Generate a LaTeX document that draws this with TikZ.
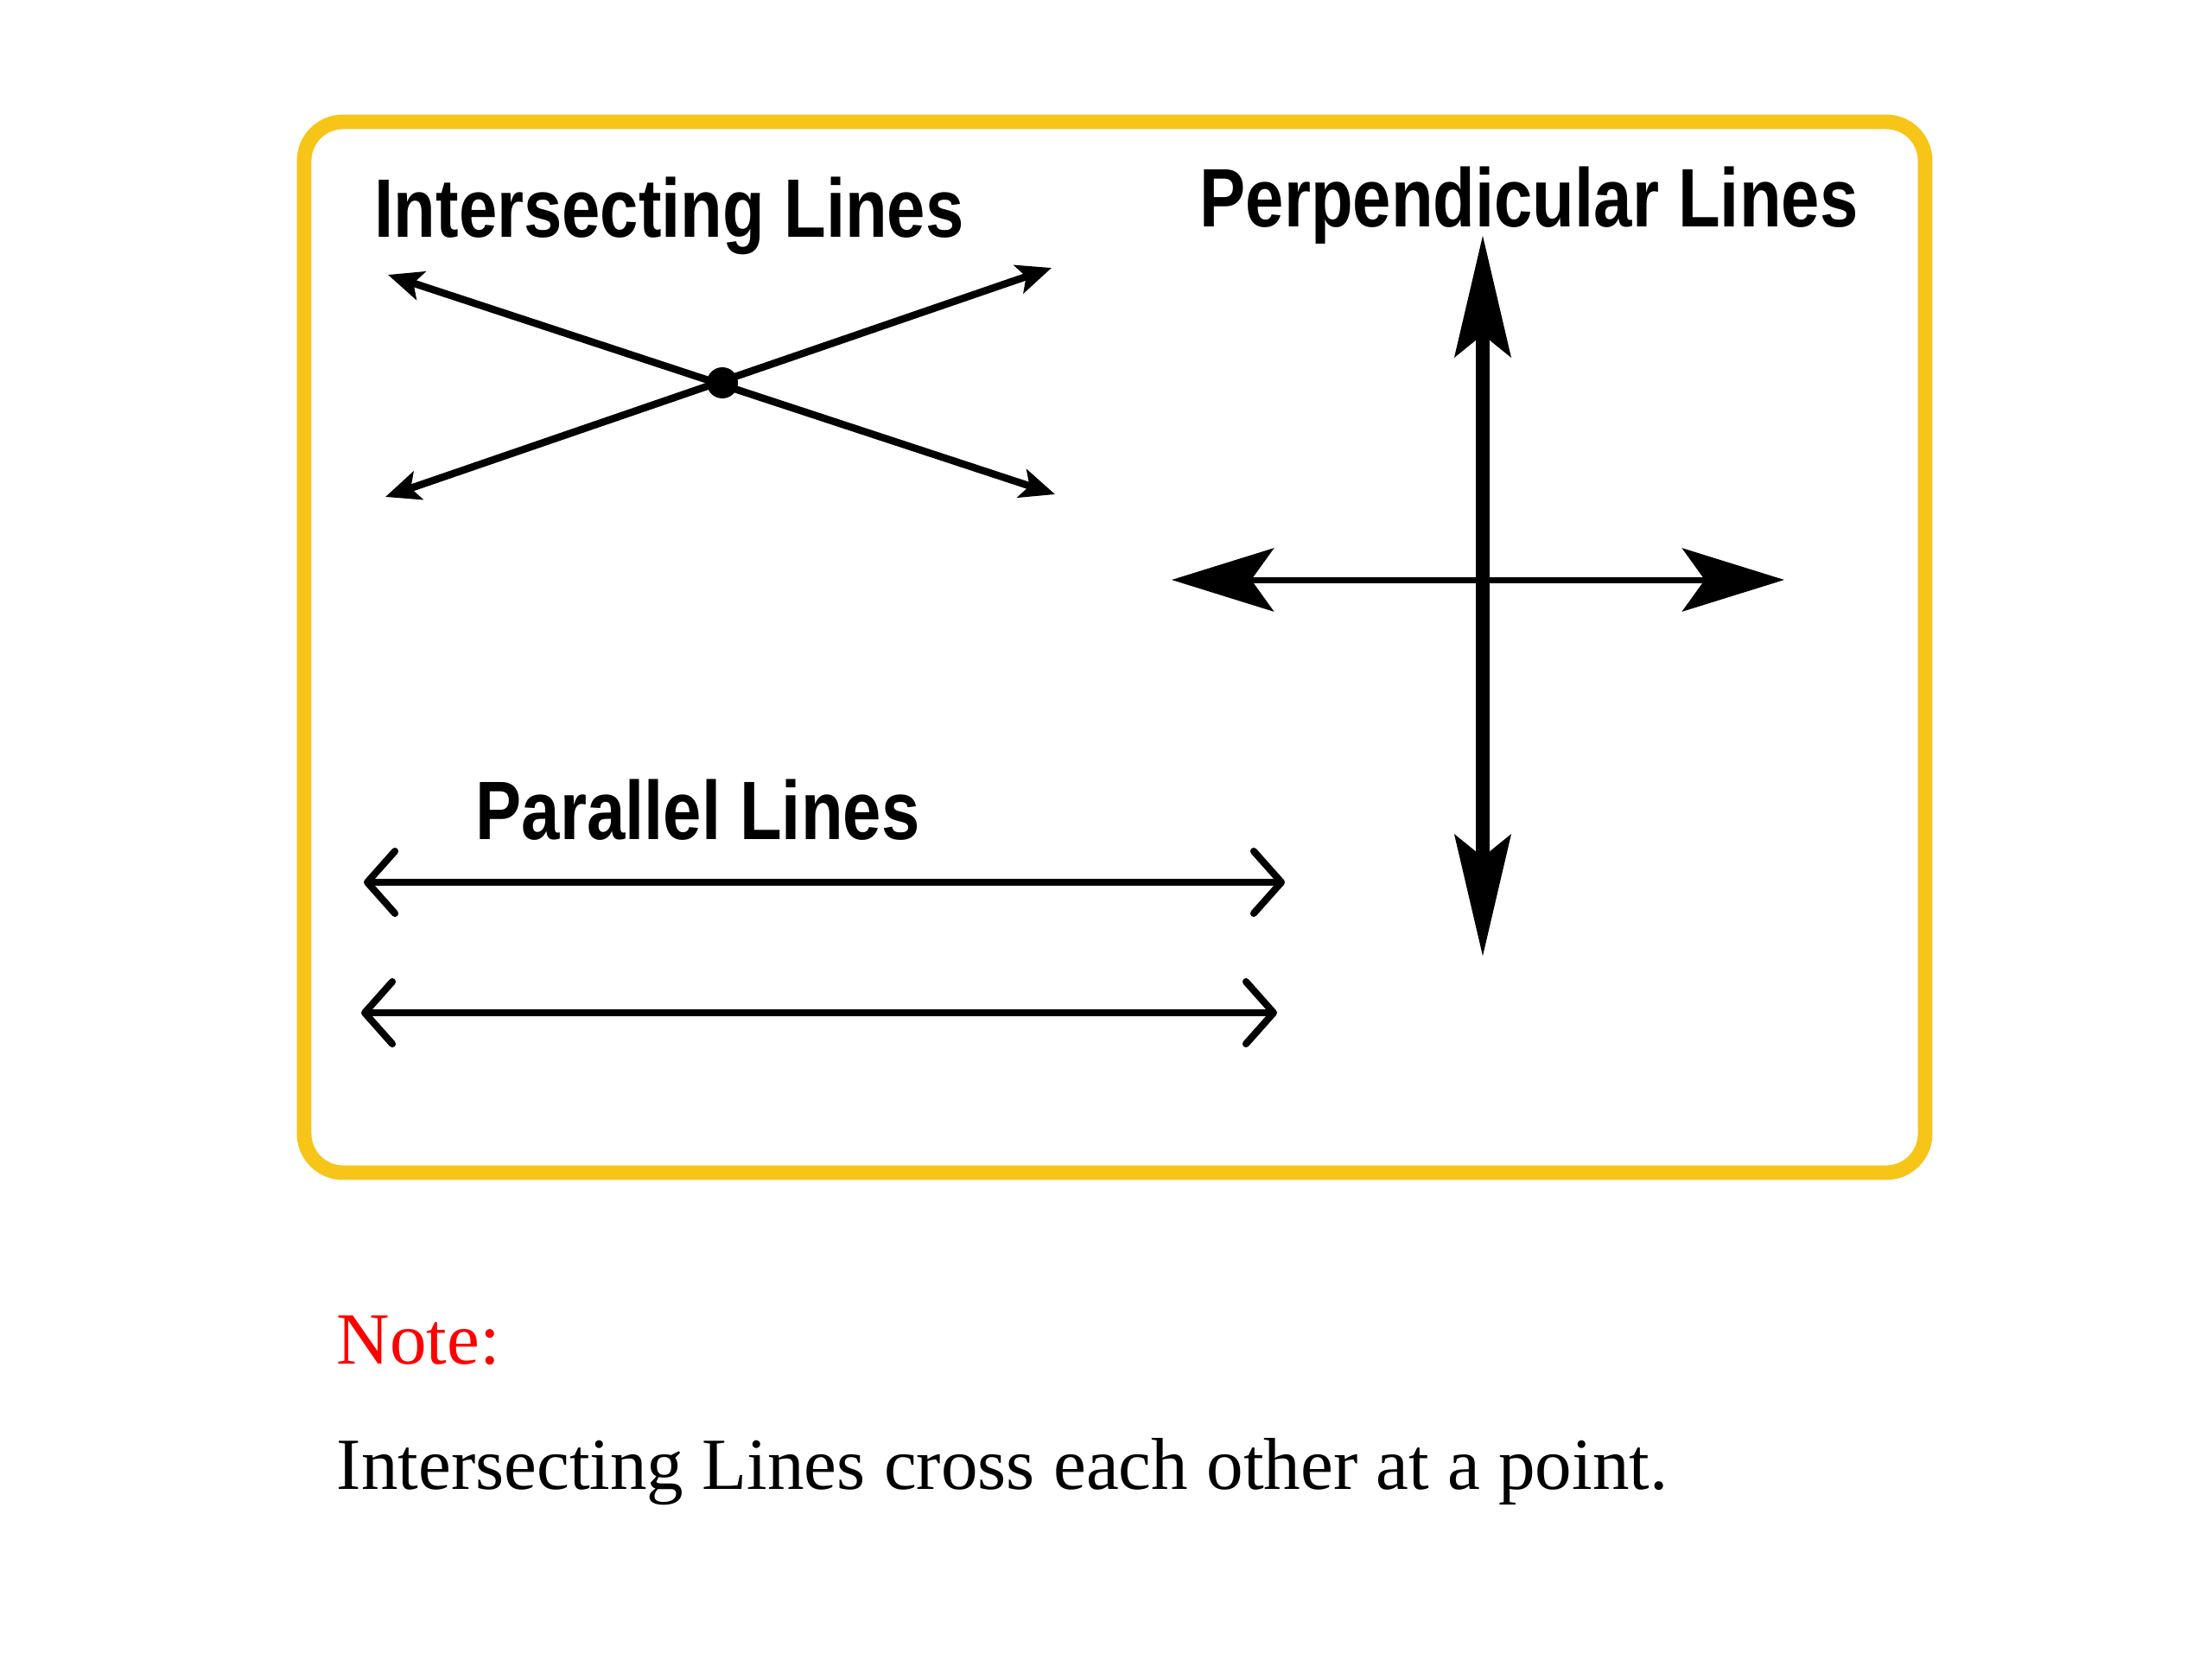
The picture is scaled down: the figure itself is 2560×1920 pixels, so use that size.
\documentclass[tikz,border=0pt]{standalone}
\usepackage{fontspec}
\setmainfont{Liberation Serif}
\newfontfamily\headfont[FakeStretch=0.83]{Liberation Sans}
\usetikzlibrary{arrows.meta}

\definecolor{frameyellow}{RGB}{247,196,24}

\tikzset{
  headlabel/.style={anchor=base west, inner sep=0pt,
    font=\headfont\bfseries\fontsize{27.3}{32}\selectfont},
  notelabel/.style={anchor=base west, inner sep=0pt,
    font=\fontsize{24.2}{29}\selectfont},
  crossline/.style={line width=2.4pt,
    {Stealth[length=0.4cm,width=0.34cm,inset=0.09cm]}-{Stealth[length=0.4cm,width=0.34cm,inset=0.09cm]}},
  vertline/.style={line width=4.5pt,
    {Stealth[length=1.4cm,width=0.64cm,inset=0.25cm]}-{Stealth[length=1.4cm,width=0.64cm,inset=0.25cm]}},
  horzline/.style={line width=2pt,
    {Stealth[length=1.18cm,width=0.73cm,inset=0.26cm]}-{Stealth[length=1.18cm,width=0.73cm,inset=0.26cm]}},
  parline/.style={line width=2.3pt,
    {Straight Barb[length=0.32cm,width=0.72cm,round]}-{Straight Barb[length=0.32cm,width=0.72cm,round]}},
  meetdot/.style={circle, fill, inner sep=0pt, minimum size=0.36cm}
}

\begin{document}
\begin{tikzpicture}[x=0.01cm, y=-0.01cm]
    \useasboundingbox (0,0) rectangle (2560,1920);

    \draw[frameyellow, line width=4.8pt, rounded corners=0.45cm] (352,141) rectangle (2228,1357);

    % intersecting
    \node[headlabel] (ihead) at (433,274) {Intersecting Lines};
    \coordinate (ul) at (449,318);
    \coordinate (lr) at (1221,572);
    \coordinate (ll) at (446,575);
    \coordinate (ur) at (1217,310);
    \draw[crossline] (ul) -- (lr);
    \draw[crossline] (ll) -- (ur);
    \node[meetdot] (meet) at (836,443) {};

    % perpendicular
    \node[headlabel] (phead) at (1388,262) {Perpendicular Lines};
    \coordinate (vtop) at (1716,272);
    \coordinate (vbot) at (1716,1107);
    \coordinate (hleft) at (1356,671);
    \coordinate (hright) at (2065,671);
    \draw[horzline] (hleft) -- (hright);
    \draw[vertline] (vtop) -- (vbot);

    % parallel
    \node[headlabel] (parhead) at (550,971) {Parallel Lines};
    \coordinate (aleft) at (421,1021);
    \coordinate (aright) at (1487,1021);
    \coordinate (bleft) at (418,1172);
    \coordinate (bright) at (1478,1172);
    \draw[parline] (aleft) -- (aright);
    \draw[parline] (bleft) -- (bright);

    \node[notelabel, text=red] (note) at (389,1578) {Note:};
    \node[notelabel] (notetext) at (389,1723) {Intersecting Lines cross each other at a point.};
\end{tikzpicture}
\end{document}
